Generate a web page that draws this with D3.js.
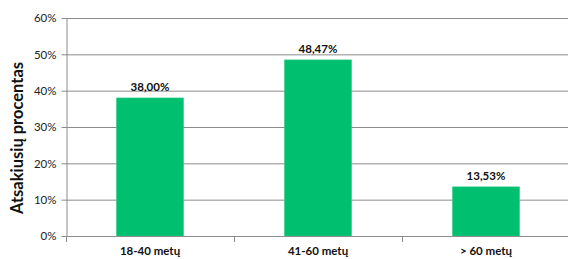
<!DOCTYPE html>
<html><head><meta charset="utf-8">
<script src="https://cdn.jsdelivr.net/npm/d3@7"></script>
<style>body{margin:0;background:#fff}svg{display:block;font-family:Lato,"Open Sans",sans-serif}</style>
</head><body><svg id="c" width="568" height="259"></svg>
<script>
const categories = ["18-40 metų", "41-60 metų", "> 60 metų"];
const values = [38.00, 48.47, 13.53];
const valueLabels = ["38,00%", "48,47%", "13,53%"];
const yTicks = [0, 10, 20, 30, 40, 50, 60];
const yTitle = "Atsakiusių procentas";

const svg = d3.select("#c");
const pL = 66, pR = 570, pT = 18, pB = 236;
const x = d3.scaleBand().domain(categories).range([pL, pR]).paddingInner(0.6).paddingOuter(0.3);
const xb = d3.scaleBand().domain(categories).range([pL, pR]);
const y = d3.scaleLinear().domain([0, 60]).range([pB, pT]);

// gridlines
svg.append("g").selectAll("line").data(yTicks.filter(d => d > 0)).join("line")
  .attr("x1", pL).attr("x2", pR).attr("y1", d => y(d) + 0.5).attr("y2", d => y(d) + 0.5)
  .attr("stroke", "#8c8c8c").attr("stroke-width", 1);

// y axis
const ya = svg.append("g").attr("transform", `translate(${pL + 0.5},0)`)
  .call(d3.axisLeft(y).tickValues(yTicks).tickFormat(d => d + "%").tickSize(5).tickSizeOuter(0));
ya.select(".domain").attr("stroke", "#8c8c8c");
ya.selectAll(".tick line").attr("stroke", "#8c8c8c");
ya.selectAll(".tick text").attr("font-size", 11.5).attr("fill", "#222").attr("x", -10)
  .attr("font-family", "Lato, sans-serif");

// bars
svg.append("g").selectAll("rect").data(values).join("rect")
  .attr("x", (d, i) => x(categories[i])).attr("width", x.bandwidth())
  .attr("y", d => y(d)).attr("height", d => pB - y(d))
  .attr("fill", "#00bf6f").attr("stroke", "#3fd191").attr("stroke-width", 0.6);

// x axis
svg.append("line").attr("x1", pL).attr("x2", pR).attr("y1", pB + 0.5).attr("y2", pB + 0.5)
  .attr("stroke", "#8c8c8c");
svg.append("g").selectAll("line").data(categories).join("line")
  .attr("x1", d => xb(d) + 0.5).attr("x2", d => xb(d) + 0.5)
  .attr("y1", pB).attr("y2", pB + 6).attr("stroke", "#8c8c8c");
svg.append("g").selectAll("text").data(categories).join("text")
  .attr("x", d => xb(d) + xb.bandwidth() / 2).attr("y", 255)
  .attr("text-anchor", "middle").attr("font-size", 11.5).attr("font-weight", "bold").attr("fill", "#111")
  .text(d => d);

// value labels
svg.append("g").selectAll("text").data(values).join("text")
  .attr("x", (d, i) => xb(categories[i]) + xb.bandwidth() / 2).attr("y", d => y(d) - 7)
  .attr("text-anchor", "middle").attr("font-size", 11.5).attr("font-weight", "bold").attr("fill", "#111")
  .text((d, i) => valueLabels[i]);

// y title
svg.append("text").attr("transform", `translate(23,138) rotate(-90)`)
  .attr("text-anchor", "middle").attr("font-size", 16.5).attr("font-weight", "bold").attr("fill", "#111")
  .text(yTitle);
</script></body></html>
